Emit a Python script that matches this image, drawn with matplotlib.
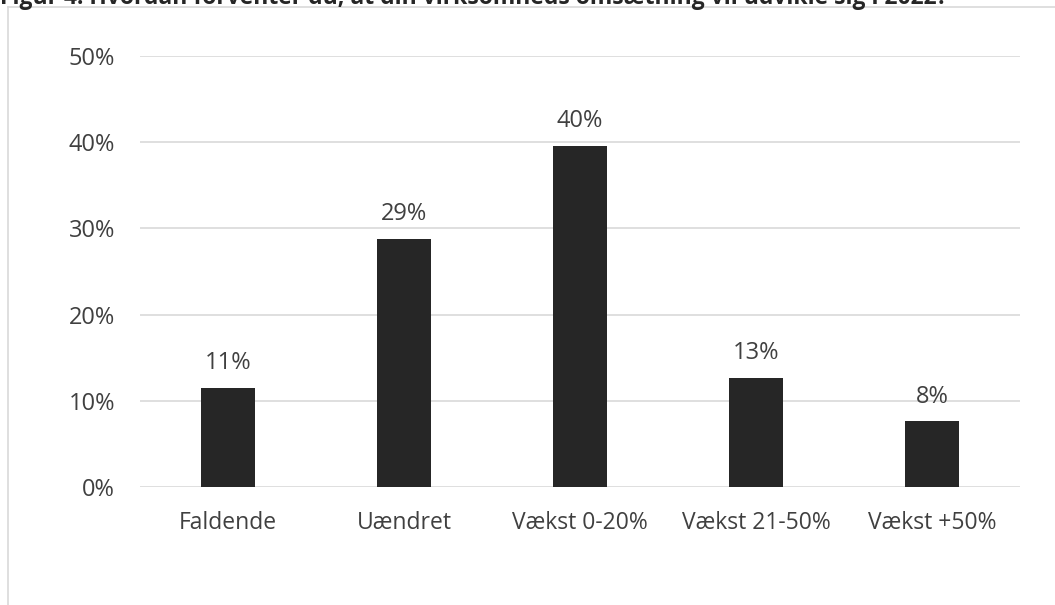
import matplotlib.pyplot as plt
import numpy as np

plt.rcParams['font.family'] = ['Open Sans', 'DejaVu Sans']

categories = ['Faldende', 'Uændret', 'Vækst 0-20%', 'Vækst 21-50%', 'Vækst +50%']
values = [11.5, 28.8, 39.6, 12.6, 7.6]
labels = ['11%', '29%', '40%', '13%', '8%']
title = 'Figur 4: Hvordan forventer du, at din virksomheds omsætning vil udvikle sig i 2022?'

fig = plt.figure(figsize=(10.55, 6.05), dpi=100)
ax = fig.add_axes([140/1055, 1-487/605, 880/1055, 431/605])

x = np.arange(len(categories))
ax.bar(x, values, width=0.31, color='#262626', zorder=3)
for xi, v, lab in zip(x, values, labels):
    ax.text(xi, v + 1.5, lab, ha='center', va='bottom', fontsize=17, color='#404040')

ax.set_xlim(-0.5, len(categories) - 0.5)
ax.set_ylim(0, 50)
ax.set_yticks(range(0, 51, 10))
ax.set_yticklabels(['%d%%' % t for t in range(0, 51, 10)])
ax.set_xticks(x)
ax.set_xticklabels(categories)
ax.tick_params(axis='both', length=0, labelsize=17, colors='#404040')
ax.tick_params(axis='x', labelsize=16.5, pad=17)
ax.tick_params(axis='y', pad=18)
ax.yaxis.grid(True, color='#d9d9d9', lw=1.2, zorder=0)
for s in ax.spines.values():
    s.set_visible(False)

# chart area border
fig.add_artist(plt.Line2D([8/1055, 8/1055], [0, 1-7/605], color='#d9d9d9', lw=1.2))
fig.add_artist(plt.Line2D([8/1055, 1], [1-7/605, 1-7/605], color='#d9d9d9', lw=1.2))

fig.text(0, 1-4/605, title, ha='left', va='baseline', fontsize=16.5, fontweight='bold', color='#262626')

fig.savefig('out.png', dpi=100)
